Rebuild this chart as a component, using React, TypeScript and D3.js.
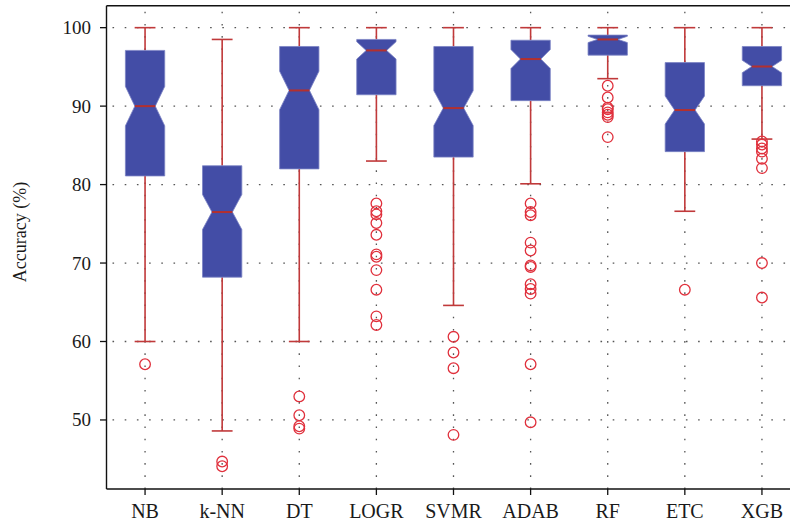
import React from "react";
import * as d3 from "d3";

// Model names along the x axis
const categories = ["NB", "k-NN", "DT", "LOGR", "SVMR", "ADAB", "RF", "ETC", "XGB"];

// Five-number summaries per model (accuracy, %)
const whiskerHigh = [100, 98.5, 100, 100, 100, 100, 100, 100, 100];
const q3 = [97.1, 82.4, 97.6, 98.5, 97.6, 98.4, 99.05, 95.55, 97.6];
const medians = [90.0, 76.5, 92.0, 97.1, 89.75, 96.0, 98.5, 89.5, 95.05];
const q1 = [81.1, 68.2, 82.0, 91.45, 83.5, 90.7, 96.5, 84.2, 92.6];
const whiskerLow = [60.0, 48.6, 60.0, 83.0, 64.6, 80.1, 93.5, 76.6, 85.8];

// Number of runs per model (sets the notch size)
const sampleSize = 100;

// Outliers per model
const outNB = [57.1];
const outKNN = [44.7, 44.1];
const outDT = [53.0, 50.6, 49.2, 48.9];
const outLOGR = [77.6, 76.6, 76.2, 75.1, 73.6, 71.1, 70.8, 69.1, 66.6, 63.2, 62.1];
const outSVMR = [60.6, 58.6, 56.6, 48.1];
const outADAB = [77.6, 76.5, 76.1, 72.6, 71.6, 69.7, 69.5, 67.3, 66.7, 66.1, 57.1, 49.7];
const outRF = [92.6, 91.1, 89.8, 89.6, 89.2, 88.9, 88.6, 86.05];
const outETC = [66.6];
const outXGB = [85.5, 85.1, 84.6, 84.2, 83.3, 82.1, 70.0, 65.6];
const outliers = [outNB, outKNN, outDT, outLOGR, outSVMR, outADAB, outRF, outETC, outXGB];

const yTicks = [50, 60, 70, 80, 90, 100];

const W = 790;
const H = 525;
const plot = { left: 106.5, right: 800.5, top: 5.7, bottom: 489 };

const FONT = "'Liberation Serif', 'Times New Roman', serif";
const BOX_FILL = "#434da6";
const BOX_EDGE = "#7b83c4";
const MEDIAN = "#b3302e";
const WHISKER = "#c0393a";
const OUTLIER = "#e0303c";
const GRID = "#555";

export default function App() {
  const x = d3.scaleBand<string>().domain(categories).range([plot.left, plot.right]).padding(0);
  const y = d3.scaleLinear().domain([41.2, 102.8]).range([plot.bottom, plot.top]);
  const bw = x.bandwidth();
  const halfBox = bw * 0.255;
  const halfNotch = halfBox * 0.52;
  const halfCap = bw * 0.135;

  const boxPath = (i: number) => {
    const cx = (x(categories[i]) as number) + bw / 2;
    const iqr = q3[i] - q1[i];
    const n = (1.57 * iqr) / Math.sqrt(sampleSize);
    const nHi = Math.min(medians[i] + n, q3[i]);
    const nLo = Math.max(medians[i] - n, q1[i]);
    const pts: [number, number][] = [
      [cx - halfBox, y(q3[i])],
      [cx + halfBox, y(q3[i])],
      [cx + halfBox, y(nHi)],
      [cx + halfNotch, y(medians[i])],
      [cx + halfBox, y(nLo)],
      [cx + halfBox, y(q1[i])],
      [cx - halfBox, y(q1[i])],
      [cx - halfBox, y(nLo)],
      [cx - halfNotch, y(medians[i])],
      [cx - halfBox, y(nHi)],
    ];
    return d3.line()(pts) + "Z";
  };

  return (
    <svg
      width={W}
      height={H}
      style={{ position: "absolute", left: 0, top: 0, display: "block", background: "#fff" }}
      fontFamily={FONT}
    >
      {/* dotted grid */}
      <g stroke={GRID} strokeWidth={1.3} strokeDasharray="1.6 10.6" fill="none">
        {yTicks.map((t) => (
          <line key={"h" + t} x1={plot.left + 6} x2={plot.right} y1={y(t)} y2={y(t)} />
        ))}
        {categories.map((c) => {
          const cx = (x(c) as number) + bw / 2;
          return <line key={"v" + c} x1={cx} x2={cx} y1={plot.top + 6} y2={plot.bottom} />;
        })}
      </g>

      {/* whiskers */}
      <g stroke={WHISKER} strokeWidth={1.6} fill="none">
        {categories.map((c, i) => {
          const cx = (x(c) as number) + bw / 2;
          return (
            <g key={"w" + c}>
              <line x1={cx} x2={cx} y1={y(q3[i])} y2={y(whiskerHigh[i])} />
              <line x1={cx} x2={cx} y1={y(q1[i])} y2={y(whiskerLow[i])} />
              <line x1={cx - halfCap} x2={cx + halfCap} y1={y(whiskerHigh[i])} y2={y(whiskerHigh[i])} />
              <line x1={cx - halfCap} x2={cx + halfCap} y1={y(whiskerLow[i])} y2={y(whiskerLow[i])} />
            </g>
          );
        })}
      </g>

      {/* notched boxes */}
      <g>
        {categories.map((c, i) => (
          <path key={"b" + c} d={boxPath(i)} fill={BOX_FILL} stroke={BOX_EDGE} strokeWidth={0.8} />
        ))}
      </g>

      {/* medians */}
      <g stroke={MEDIAN} strokeWidth={2}>
        {categories.map((c, i) => {
          const cx = (x(c) as number) + bw / 2;
          return (
            <line key={"m" + c} x1={cx - halfNotch} x2={cx + halfNotch} y1={y(medians[i])} y2={y(medians[i])} />
          );
        })}
      </g>

      {/* outliers */}
      <g fill="none" stroke={OUTLIER} strokeWidth={1.3}>
        {categories.map((c, i) => {
          const cx = (x(c) as number) + bw / 2;
          return outliers[i].map((v, k) => <circle key={c + k} cx={cx} cy={y(v)} r={5.3} />);
        })}
      </g>

      {/* axes frame */}
      <g stroke="#111" strokeWidth={1.4} fill="none">
        <line x1={plot.left} x2={plot.left} y1={plot.top} y2={plot.bottom} />
        <line x1={plot.left} x2={plot.right} y1={plot.bottom} y2={plot.bottom} />
        <line x1={plot.left} x2={plot.right} y1={plot.top} y2={plot.top} />
      </g>

      {/* y axis ticks and labels */}
      <g>
        {yTicks.map((t) => (
          <g key={"yt" + t}>
            <line x1={plot.left - 6.5} x2={plot.left} y1={y(t)} y2={y(t)} stroke="#111" strokeWidth={1.3} />
            <text x={91} y={y(t) + 6.5} textAnchor="end" fontSize={19} fill="#1a1a1a">
              {t}
            </text>
          </g>
        ))}
      </g>

      {/* x axis ticks and labels */}
      <g>
        {categories.map((c) => {
          const cx = (x(c) as number) + bw / 2;
          return (
            <g key={"xt" + c}>
              <line x1={cx} x2={cx} y1={plot.bottom} y2={plot.bottom + 6} stroke="#111" strokeWidth={1.3} />
              <text x={cx} y={517.5} textAnchor="middle" fontSize={20} fill="#1a1a1a">
                {c}
              </text>
            </g>
          );
        })}
      </g>

      {/* y axis title */}
      <text transform="translate(26,232) rotate(-90)" textAnchor="middle" fontSize={18} fill="#1a1a1a">
        Accuracy (%)
      </text>
    </svg>
  );
}
